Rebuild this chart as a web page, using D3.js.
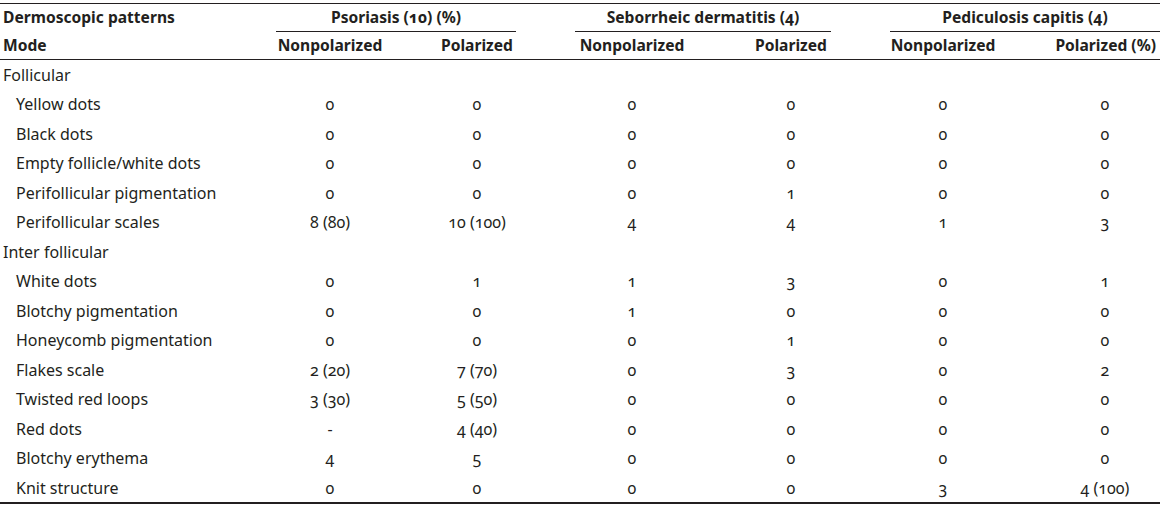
<!DOCTYPE html>
<html>
<head>
<meta charset="utf-8">
<script src="https://cdn.jsdelivr.net/npm/d3@7"></script>
<style>
  body { margin: 0; background: #fff; }
  svg text { font-family: "Noto Sans", "Open Sans", sans-serif; font-feature-settings: "onum" 1; fill: #231f20; }
</style>
</head>
<body>
<div id="table"></div>
<script>
const groups = ['Psoriasis (10) (%)', 'Seborrheic dermatitis (4)', 'Pediculosis capitis (4)'];
const modes = ['Nonpolarized', 'Polarized', 'Nonpolarized', 'Polarized', 'Nonpolarized', 'Polarized (%)'];

const rowLabels = [
  'Follicular', 'Yellow dots', 'Black dots', 'Empty follicle/white dots', 'Perifollicular pigmentation',
  'Perifollicular scales', 'Inter follicular', 'White dots', 'Blotchy pigmentation', 'Honeycomb pigmentation',
  'Flakes scale', 'Twisted red loops', 'Red dots', 'Blotchy erythema', 'Knit structure'
];
// section rows have no values
const sectionRows = ['Follicular', 'Inter follicular'];

const psoNonpol = ['', '0', '0', '0', '0', '8 (80)', '', '0', '0', '0', '2 (20)', '3 (30)', '-', '4', '0'];
const psoPol    = ['', '0', '0', '0', '0', '10 (100)', '', '1', '0', '0', '7 (70)', '5 (50)', '4 (40)', '5', '0'];
const sebNonpol = ['', '0', '0', '0', '0', '4', '', '1', '1', '0', '0', '0', '0', '0', '0'];
const sebPol    = ['', '0', '0', '0', '1', '4', '', '3', '0', '1', '3', '0', '0', '0', '0'];
const pedNonpol = ['', '0', '0', '0', '0', '1', '', '0', '0', '0', '0', '0', '0', '0', '3'];
const pedPol    = ['', '0', '0', '0', '0', '3', '', '1', '0', '0', '2', '0', '0', '0', '4 (100)'];

const columns = [psoNonpol, psoPol, sebNonpol, sebPol, pedNonpol, pedPol];

const width = 1160;
const height = 505;

const svg = d3.select('#table')
  .append('svg')
  .attr('width', width)
  .attr('height', height);

// column centres
const x = d3.scaleOrdinal()
  .domain(d3.range(columns.length))
  .range([330, 477, 632, 791, 943, 1105]);

// group header spans
const gx = d3.scaleOrdinal()
  .domain(d3.range(groups.length))
  .range([[276, 516], [575, 831], [890, 1160]]);

const y = d3.scalePoint()
  .domain(rowLabels)
  .range([75, 488]);

const fontSize = 16;
const headSize = 15.6;

// rules
svg.append('line').attr('x1', 0).attr('x2', width).attr('y1', 3.5).attr('y2', 3.5)
  .attr('stroke', '#231f20').attr('stroke-width', 1);
svg.append('line').attr('x1', 0).attr('x2', width).attr('y1', 59.5).attr('y2', 59.5)
  .attr('stroke', '#231f20').attr('stroke-width', 1);
svg.append('line').attr('x1', 0).attr('x2', width).attr('y1', 503).attr('y2', 503)
  .attr('stroke', '#231f20').attr('stroke-width', 2);

// header row 1
svg.append('text').attr('x', 3).attr('y', 18).attr('dy', '0.35em')
  .attr('font-size', headSize).attr('font-weight', 'bold').text('Dermoscopic patterns');

svg.append('g').selectAll('text')
  .data(groups)
  .join('text')
  .attr('x', (d, i) => (gx(i)[0] + gx(i)[1]) / 2)
  .attr('y', 18).attr('dy', '0.35em')
  .attr('text-anchor', 'middle')
  .attr('font-size', headSize).attr('font-weight', 'bold')
  .text(d => d);

svg.append('g').selectAll('line')
  .data(groups)
  .join('line')
  .attr('x1', (d, i) => gx(i)[0])
  .attr('x2', (d, i) => gx(i)[1])
  .attr('y1', 31.5).attr('y2', 31.5)
  .attr('stroke', '#231f20').attr('stroke-width', 1);

// header row 2
svg.append('text').attr('x', 3).attr('y', 46).attr('dy', '0.35em')
  .attr('font-size', headSize).attr('font-weight', 'bold').text('Mode');

svg.append('g').selectAll('text')
  .data(modes)
  .join('text')
  .attr('x', (d, i) => i === modes.length - 1 ? 1156 : x(i))
  .attr('y', 46).attr('dy', '0.35em')
  .attr('text-anchor', (d, i) => i === modes.length - 1 ? 'end' : 'middle')
  .attr('font-size', headSize).attr('font-weight', 'bold')
  .text(d => d);

// row labels
svg.append('g').selectAll('text')
  .data(rowLabels)
  .join('text')
  .attr('x', d => sectionRows.includes(d) ? 3 : 16)
  .attr('y', d => y(d)).attr('dy', '0.35em')
  .attr('font-size', fontSize)
  .text(d => d);

// values
columns.forEach((col, ci) => {
  svg.append('g').selectAll('text')
    .data(col.map((v, ri) => ({ v, row: rowLabels[ri] })).filter(d => d.v !== ''))
    .join('text')
    .attr('x', x(ci))
    .attr('y', d => y(d.row)).attr('dy', '0.35em')
    .attr('text-anchor', 'middle')
    .attr('font-size', fontSize)
    .text(d => d.v);
});
</script>
</body>
</html>
